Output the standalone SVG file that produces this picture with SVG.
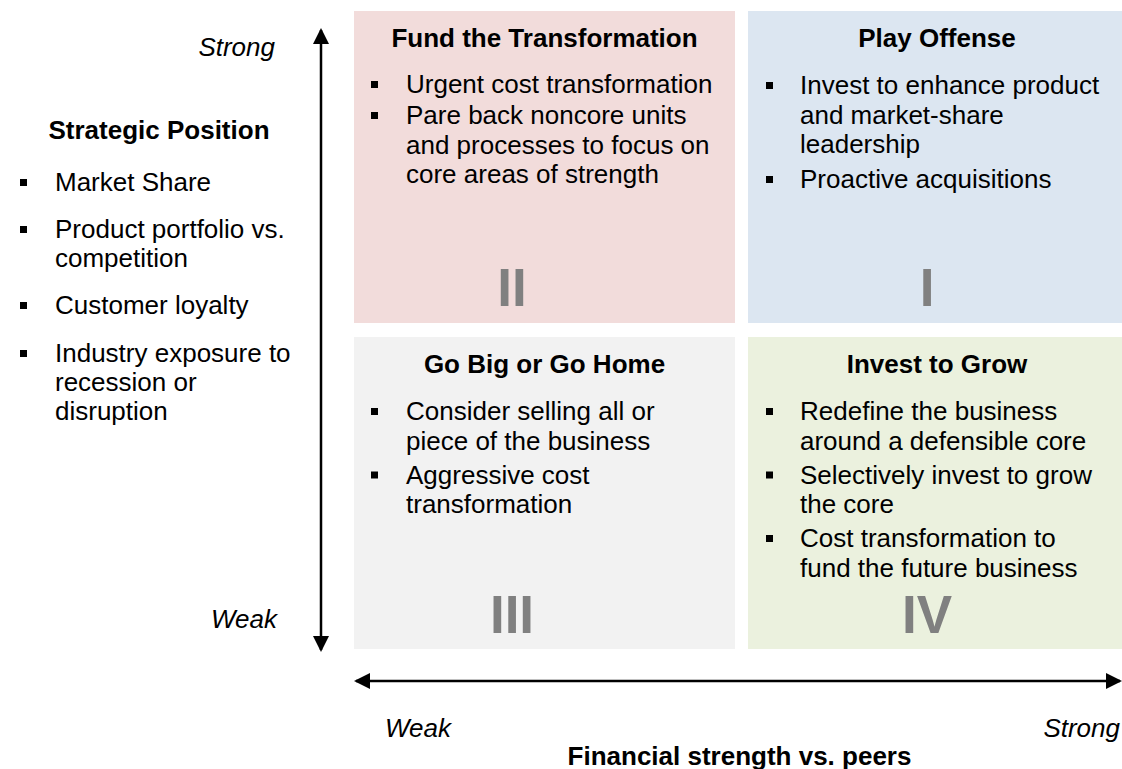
<svg xmlns="http://www.w3.org/2000/svg" width="1122" height="769" viewBox="0 0 1122 769">
<defs>
<style>
text{font-family:"Liberation Sans",Arial,sans-serif;font-size:26px;fill:#000}
.b{font-weight:bold}
.i{font-style:italic}
.m{text-anchor:middle}
.e{text-anchor:end}
.num{font-weight:bold;font-size:53px;fill:#808080;text-anchor:middle}
.bul{fill:#000}
.ax{stroke:#000;stroke-width:2.5;fill:none}
</style>
<marker id="ah" viewBox="0 0 16 16" refX="14" refY="8" markerWidth="16" markerHeight="16" markerUnits="userSpaceOnUse" orient="auto-start-reverse">
<path d="M0,0 L16,8 L0,16 z" fill="#000"/>
</marker>
</defs>
<rect width="1122" height="769" fill="#fff"/>

<g id="strategic-position">
<text class="b m" x="159" y="139">Strategic Position</text>
<rect class="bul" x="20" y="179" width="7" height="7"/>
<text x="55" y="191">Market Share</text>
<rect class="bul" x="20" y="226" width="7" height="7"/>
<text x="55" y="238">Product portfolio vs.</text>
<text x="55" y="267">competition</text>
<rect class="bul" x="20" y="302" width="7" height="7"/>
<text x="55" y="314">Customer loyalty</text>
<rect class="bul" x="20" y="350" width="7" height="7"/>
<text x="55" y="362">Industry exposure to</text>
<text x="55" y="391">recession or</text>
<text x="55" y="420">disruption</text>
</g>

<g id="y-axis-labels">
<text class="i e" x="275" y="56">Strong</text>
<text class="i e" x="277" y="628">Weak</text>
</g>

<g id="q2-fund">
<rect x="354" y="11" width="381" height="312" fill="#F2DCDB"/>
<text class="b m" x="544.5" y="47">Fund the Transformation</text>
<rect class="bul" x="371" y="81" width="7" height="7"/>
<text x="406" y="93">Urgent cost transformation</text>
<rect class="bul" x="371" y="112" width="7" height="7"/>
<text x="406" y="124">Pare back noncore units</text>
<text x="406" y="153.5">and processes to focus on</text>
<text x="406" y="183">core areas of strength</text>
<text class="num" x="512" y="306">II</text>
</g>

<g id="q1-offense">
<rect x="748" y="11" width="374" height="312" fill="#DCE6F1"/>
<text class="b m" x="937" y="47">Play Offense</text>
<rect class="bul" x="766" y="82" width="7" height="7"/>
<text x="800" y="94">Invest to enhance product</text>
<text x="800" y="123.5">and market-share</text>
<text x="800" y="153">leadership</text>
<rect class="bul" x="766" y="176" width="7" height="7"/>
<text x="800" y="188">Proactive acquisitions</text>
<text class="num" x="927" y="306">I</text>
</g>

<g id="q3-gobig">
<rect x="354" y="337" width="381" height="312" fill="#F2F2F2"/>
<text class="b m" x="544.5" y="373">Go Big or Go Home</text>
<rect class="bul" x="371" y="408" width="7" height="7"/>
<text x="406" y="420">Consider selling all or</text>
<text x="406" y="449.5">piece of the business</text>
<rect class="bul" x="371" y="471.5" width="7" height="7"/>
<text x="406" y="483.5">Aggressive cost</text>
<text x="406" y="513">transformation</text>
<text class="num" x="512" y="633">III</text>
</g>

<g id="q4-grow">
<rect x="748" y="337" width="374" height="312" fill="#EBF1DE"/>
<text class="b m" x="937" y="373">Invest to Grow</text>
<rect class="bul" x="766" y="408" width="7" height="7"/>
<text x="800" y="420">Redefine the business</text>
<text x="800" y="449.5">around a defensible core</text>
<rect class="bul" x="766" y="471.5" width="7" height="7"/>
<text x="800" y="483.5">Selectively invest to grow</text>
<text x="800" y="513">the core</text>
<rect class="bul" x="766" y="535" width="7" height="7"/>
<text x="800" y="547">Cost transformation to</text>
<text x="800" y="576.5">fund the future business</text>
<text class="num" x="927" y="633">IV</text>
</g>

<g id="x-axis-labels">
<text class="i" x="385" y="737">Weak</text>
<text class="i e" x="1120" y="737">Strong</text>
<text class="b m" x="739.5" y="765">Financial strength vs. peers</text>
</g>

<g id="connectors">
<line class="ax" x1="321" y1="30" x2="321" y2="650" marker-start="url(#ah)" marker-end="url(#ah)"/>
<line class="ax" x1="356" y1="681" x2="1120" y2="681" marker-start="url(#ah)" marker-end="url(#ah)"/>
</g>
</svg>
